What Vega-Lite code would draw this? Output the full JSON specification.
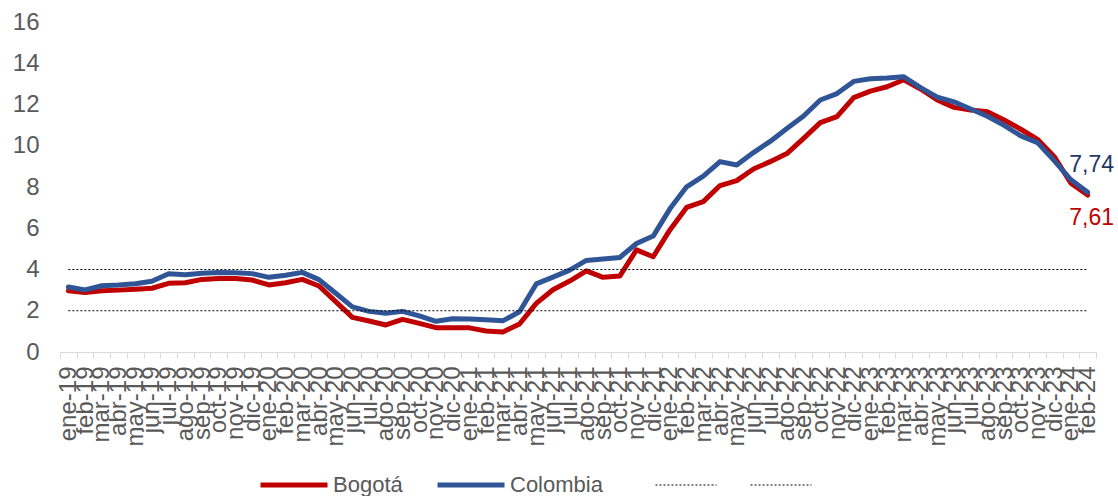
{
  "$schema": "https://vega.github.io/schema/vega-lite/v6.json",
  "width": 1036,
  "height": 330,
  "autosize": "none",
  "padding": {"left": 60, "top": 22, "right": 22, "bottom": 144},
  "config": {
    "view": {"stroke": null},
    "font": "Liberation Sans"
  },
  "datasets": {
    "ipc": [
      {"mes": "ene-19", "Bogotá": 2.97, "Colombia": 3.15},
      {"mes": "feb-19", "Bogotá": 2.88, "Colombia": 3.01},
      {"mes": "mar-19", "Bogotá": 2.97, "Colombia": 3.21},
      {"mes": "abr-19", "Bogotá": 3.0, "Colombia": 3.25},
      {"mes": "may-19", "Bogotá": 3.04, "Colombia": 3.31},
      {"mes": "jun-19", "Bogotá": 3.09, "Colombia": 3.43},
      {"mes": "jul-19", "Bogotá": 3.33, "Colombia": 3.79},
      {"mes": "ago-19", "Bogotá": 3.36, "Colombia": 3.75},
      {"mes": "sep-19", "Bogotá": 3.52, "Colombia": 3.82},
      {"mes": "oct-19", "Bogotá": 3.56, "Colombia": 3.86},
      {"mes": "nov-19", "Bogotá": 3.56, "Colombia": 3.84},
      {"mes": "dic-19", "Bogotá": 3.49, "Colombia": 3.8},
      {"mes": "ene-20", "Bogotá": 3.25, "Colombia": 3.62},
      {"mes": "feb-20", "Bogotá": 3.36, "Colombia": 3.72},
      {"mes": "mar-20", "Bogotá": 3.52, "Colombia": 3.86},
      {"mes": "abr-20", "Bogotá": 3.2, "Colombia": 3.51},
      {"mes": "may-20", "Bogotá": 2.44, "Colombia": 2.85},
      {"mes": "jun-20", "Bogotá": 1.68, "Colombia": 2.19},
      {"mes": "jul-20", "Bogotá": 1.5, "Colombia": 1.97},
      {"mes": "ago-20", "Bogotá": 1.31, "Colombia": 1.88},
      {"mes": "sep-20", "Bogotá": 1.58, "Colombia": 1.97},
      {"mes": "oct-20", "Bogotá": 1.39, "Colombia": 1.75},
      {"mes": "nov-20", "Bogotá": 1.18, "Colombia": 1.49},
      {"mes": "dic-20", "Bogotá": 1.18, "Colombia": 1.61},
      {"mes": "ene-21", "Bogotá": 1.17, "Colombia": 1.6},
      {"mes": "feb-21", "Bogotá": 1.02, "Colombia": 1.56},
      {"mes": "mar-21", "Bogotá": 0.97, "Colombia": 1.51},
      {"mes": "abr-21", "Bogotá": 1.36, "Colombia": 1.95},
      {"mes": "may-21", "Bogotá": 2.36, "Colombia": 3.3},
      {"mes": "jun-21", "Bogotá": 3.02, "Colombia": 3.63},
      {"mes": "jul-21", "Bogotá": 3.44, "Colombia": 3.97},
      {"mes": "ago-21", "Bogotá": 3.93, "Colombia": 4.44},
      {"mes": "sep-21", "Bogotá": 3.62, "Colombia": 4.51},
      {"mes": "oct-21", "Bogotá": 3.68, "Colombia": 4.58},
      {"mes": "nov-21", "Bogotá": 4.95, "Colombia": 5.26},
      {"mes": "dic-21", "Bogotá": 4.62, "Colombia": 5.62},
      {"mes": "ene-22", "Bogotá": 5.92, "Colombia": 6.94},
      {"mes": "feb-22", "Bogotá": 7.01, "Colombia": 8.01},
      {"mes": "mar-22", "Bogotá": 7.29, "Colombia": 8.53},
      {"mes": "abr-22", "Bogotá": 8.07, "Colombia": 9.23},
      {"mes": "may-22", "Bogotá": 8.31, "Colombia": 9.07},
      {"mes": "jun-22", "Bogotá": 8.87, "Colombia": 9.67},
      {"mes": "jul-22", "Bogotá": 9.23, "Colombia": 10.21},
      {"mes": "ago-22", "Bogotá": 9.62, "Colombia": 10.84},
      {"mes": "sep-22", "Bogotá": 10.36, "Colombia": 11.44},
      {"mes": "oct-22", "Bogotá": 11.12, "Colombia": 12.22},
      {"mes": "nov-22", "Bogotá": 11.41, "Colombia": 12.53},
      {"mes": "dic-22", "Bogotá": 12.33, "Colombia": 13.12},
      {"mes": "ene-23", "Bogotá": 12.65, "Colombia": 13.25},
      {"mes": "feb-23", "Bogotá": 12.86, "Colombia": 13.28},
      {"mes": "mar-23", "Bogotá": 13.2, "Colombia": 13.34},
      {"mes": "abr-23", "Bogotá": 12.75, "Colombia": 12.82},
      {"mes": "may-23", "Bogotá": 12.22, "Colombia": 12.36},
      {"mes": "jun-23", "Bogotá": 11.86, "Colombia": 12.13},
      {"mes": "jul-23", "Bogotá": 11.73, "Colombia": 11.78},
      {"mes": "ago-23", "Bogotá": 11.65, "Colombia": 11.43},
      {"mes": "sep-23", "Bogotá": 11.25, "Colombia": 10.99},
      {"mes": "oct-23", "Bogotá": 10.8, "Colombia": 10.48},
      {"mes": "nov-23", "Bogotá": 10.31, "Colombia": 10.15},
      {"mes": "dic-23", "Bogotá": 9.47, "Colombia": 9.28},
      {"mes": "ene-24", "Bogotá": 8.18, "Colombia": 8.35},
      {"mes": "feb-24", "Bogotá": 7.61, "Colombia": 7.74}
    ],
    "metas": [
      {"mes": "ene-19", "meta": "Meta sup", "valor": 4},
      {"mes": "feb-24", "meta": "Meta sup", "valor": 4},
      {"mes": "ene-19", "meta": "Meta inf", "valor": 2},
      {"mes": "feb-24", "meta": "Meta inf", "valor": 2}
    ]
  },
  "encoding": {
    "x": {
      "field": "mes",
      "type": "ordinal",
      "sort": null,
      "scale": {"type": "band", "paddingInner": 0, "paddingOuter": 0},
      "axis": {
        "title": null,
        "labelAngle": 270,
        "labelFontSize": 24,
        "labelColor": "#595959",
        "labelOverlap": false,
        "labelBound": false,
        "labelFlush": false,
        "labelPadding": 8,
        "tickBand": "extent",
        "tickSize": 6,
        "tickColor": "#d9d9d9",
        "domainColor": "#d9d9d9",
        "domainWidth": 1,
        "grid": false
      }
    },
    "y": {
      "field": "valor",
      "type": "quantitative",
      "scale": {"domain": [0, 16], "nice": false, "zero": true},
      "axis": {
        "title": null,
        "values": [0, 2, 4, 6, 8, 10, 12, 14, 16],
        "labelFontSize": 24,
        "labelColor": "#595959",
        "labelPadding": 21,
        "domain": false,
        "ticks": false,
        "grid": false
      }
    }
  },
  "layer": [
    {
      "data": {"name": "ipc"},
      "transform": [{"fold": ["Bogotá", "Colombia"], "as": ["serie", "valor"]}],
      "mark": {"type": "line", "strokeWidth": 5, "strokeJoin": "round", "strokeCap": "round"},
      "encoding": {
        "color": {
          "field": "serie",
          "type": "nominal",
          "scale": {
            "domain": ["Bogotá", "Colombia"],
            "range": ["#C00000", "#2F5597"]
          },
          "legend": {
            "title": null,
            "orient": "none",
            "legendX": 198,
            "legendY": 427,
            "direction": "horizontal",
            "columns": 2,
            "symbolType": "stroke",
            "symbolSize": 4489,
            "symbolStrokeWidth": 5,
            "labelFontSize": 22,
            "labelColor": "#595959",
            "labelOffset": 3,
            "columnPadding": 24
          }
        }
      }
    },
    {
      "data": {"name": "metas"},
      "mark": {"type": "line", "strokeWidth": 1, "color": "#000000"},
      "encoding": {
        "strokeDash": {
          "field": "meta",
          "type": "nominal",
          "scale": {"domain": ["Meta sup", "Meta inf"], "range": [[2, 2], [2, 2]]},
          "legend": {
            "title": null,
            "orient": "none",
            "legendX": 595,
            "legendY": 432,
            "direction": "horizontal",
            "columns": 2,
            "symbolType": "stroke",
            "symbolSize": 3721,
            "symbolStrokeWidth": 1,
            "symbolStrokeColor": "#000000",
            "labelFontSize": 22,
            "labelOffset": 5,
            "columnPadding": 26,
            "labelExpr": "''"
          }
        }
      }
    },
    {
      "data": {"values": [{"mes": "feb-24", "valor": 7.74, "etiqueta": "7,74"}]},
      "mark": {"type": "text", "fontSize": 23, "color": "#1F3864", "dy": -27, "dx": 4, "align": "center", "baseline": "middle"},
      "encoding": {"text": {"field": "etiqueta"}}
    },
    {
      "data": {"values": [{"mes": "feb-24", "valor": 7.61, "etiqueta": "7,61"}]},
      "mark": {"type": "text", "fontSize": 23, "color": "#C00000", "dy": 23, "dx": 4, "align": "center", "baseline": "middle"},
      "encoding": {"text": {"field": "etiqueta"}}
    }
  ]
}
